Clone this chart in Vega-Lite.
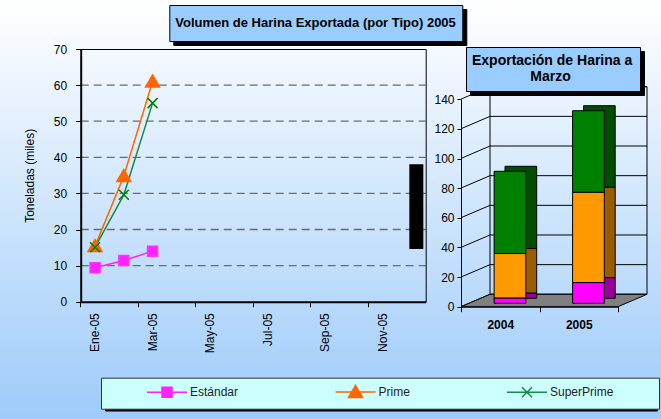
{
  "$schema": "https://vega.github.io/schema/vega-lite/v6.json",
  "width": 661,
  "height": 419,
  "autosize": {"type": "none"},
  "padding": 0,
  "background": "#ffffff",
  "config": {"font": "Liberation Sans", "view": {"stroke": null}},
  "datasets": {
    "serie": [
      {"mes": "Ene-05", "tipo": "Estándar", "miles": 9.4},
      {"mes": "Feb-05", "tipo": "Estándar", "miles": 11.4},
      {"mes": "Mar-05", "tipo": "Estándar", "miles": 14.0},
      {"mes": "Ene-05", "tipo": "Prime", "miles": 15.4},
      {"mes": "Feb-05", "tipo": "Prime", "miles": 34.8},
      {"mes": "Mar-05", "tipo": "Prime", "miles": 61.0},
      {"mes": "Ene-05", "tipo": "SuperPrime", "miles": 15.1},
      {"mes": "Feb-05", "tipo": "SuperPrime", "miles": 29.6},
      {"mes": "Mar-05", "tipo": "SuperPrime", "miles": 55.0}
    ],
    "anual": [
      {"anio": "2004", "tipo": "Estándar", "miles": 3.6},
      {"anio": "2004", "tipo": "Prime", "miles": 30.0},
      {"anio": "2004", "tipo": "SuperPrime", "miles": 55.5},
      {"anio": "2005", "tipo": "Estándar", "miles": 14.0},
      {"anio": "2005", "tipo": "Prime", "miles": 61.0},
      {"anio": "2005", "tipo": "SuperPrime", "miles": 55.0}
    ],
    "rejilla": [{"g": 10}, {"g": 20}, {"g": 30}, {"g": 40}, {"g": 50}, {"g": 60}],
    "marcas": [{"v": 0}, {"v": 20}, {"v": 40}, {"v": 60}, {"v": 80}, {"v": 100}, {"v": 120}, {"v": 140}]
  },
  "layer": [
    {
      "data": {"values": [{"fondo": 1}]},
      "mark": {"type": "rect", "xOffset": 11, "x2Offset": 11, "fill": {"gradient": "linear", "x1": 0, "y1": 0, "x2": 0, "y2": 1, "stops": [{"offset": 0, "color": "#ffffff"}, {"offset": 1, "color": "#9ecbfa"}]}},
      "encoding": {}
    },
    {
      "data": {"name": "serie"},
      "mark": {"type": "point", "opacity": 0},
      "encoding": {"color": {"field": "tipo", "type": "nominal", "scale": {"domain": ["Estándar", "Prime", "SuperPrime"], "range": ["#000000", "#000000", "#000000"]}, "legend": {
        "orient": "none", "legendX": 105, "legendY": 382.5, "direction": "horizontal",
        "title": "\u200b", "titleOrient": "left", "titlePadding": 52, "titleFontSize": 12,
        "fillColor": "#000000", "strokeColor": "#000000", "padding": 8,
        "symbolSize": 100, "symbolStrokeWidth": 1.5, "symbolOpacity": 0, "labelOffset": 17, "columnPadding": 93.5,
        "symbolType": {"expr": "datum.value === 'Estándar' ? 'M-4,0H4M-1,-1H1V1H-1Z' : datum.value === 'Prime' ? 'M-4,0H4M0,-1.3L1.4,1.1H-1.4Z' : 'M-4,0H4M-1,-1L1,1M-1,1L1,-1'"},
        "labelFontSize": 12, "labelColor": "#000000", "labelLimit": 300,
        "labelExpr": "datum.label === 'SuperPrime' ? 'SuperPrime\u00a0\u00a0\u00a0\u00a0\u00a0\u00a0\u00a0\u00a0\u00a0\u00a0\u00a0\u200b' : datum.label",
        "zindex": 1
      }}}
    },
    {
      "data": {"values": [{"titulo": "Volumen de Harina Exportada (por Tipo) 2005"}]},
      "mark": {"type": "point", "opacity": 0},
      "encoding": {"color": {"field": "titulo", "type": "nominal", "scale": {"range": ["#000000"]}, "legend": {
        "orient": "none", "legendX": 173.3, "legendY": 9, "title": null, "fillColor": "#000000", "strokeColor": "#000000", "padding": 6,
        "symbolSize": 576, "symbolOpacity": 0, "symbolStrokeWidth": 0, "labelOffset": -24, "labelFontSize": 13, "labelFontWeight": "bold", "labelColor": "#000000", "labelLimit": 500, "zindex": 1
      }}}
    },
    {
      "data": {"values": [{"titulo": "Volumen de Harina Exportada (por Tipo) 2005"}]},
      "mark": {"type": "point", "opacity": 0},
      "encoding": {"color": {"field": "titulo", "type": "nominal", "scale": {"range": ["#99ccff"]}, "legend": {
        "orient": "none", "legendX": 169.3, "legendY": 5, "title": null, "fillColor": "#99ccff", "strokeColor": "#000000", "padding": 6,
        "symbolSize": 576, "symbolOpacity": 0, "symbolStrokeWidth": 0, "labelOffset": -24, "labelFontSize": 13, "labelFontWeight": "bold", "labelColor": "#000000", "labelLimit": 500, "zindex": 2
      }}}
    },
    {
      "data": {"values": [{"titulo": "Exportación de Harina a Marzo"}]},
      "mark": {"type": "point", "opacity": 0},
      "encoding": {"color": {"field": "titulo", "type": "nominal", "scale": {"range": ["#000000"]}, "legend": {
        "orient": "none", "legendX": 470, "legendY": 51, "title": null, "fillColor": "#000000", "strokeColor": "#000000", "padding": 7,
        "symbolSize": 1, "symbolOpacity": 0, "symbolStrokeWidth": 0, "labelOffset": -15, "labelFontSize": 14, "labelFontWeight": "bold", "labelColor": "#000000", "labelLimit": 500, "zindex": 1,
        "labelExpr": "['Exportación de Harina a', '\u200b\u00a0\u00a0\u00a0\u00a0\u00a0\u00a0\u00a0\u00a0\u00a0\u00a0\u00a0\u00a0\u00a0\u00a0\u00a0Marzo']",
        "encode": {"labels": {"lineHeight": {"value": 14.5}}}
      }}}
    },
    {
      "data": {"values": [{"titulo": "Exportación de Harina a Marzo"}]},
      "mark": {"type": "point", "opacity": 0},
      "encoding": {"color": {"field": "titulo", "type": "nominal", "scale": {"range": ["#99ccff"]}, "legend": {
        "orient": "none", "legendX": 466, "legendY": 47, "title": null, "fillColor": "#99ccff", "strokeColor": "#000000", "padding": 7,
        "symbolSize": 1, "symbolOpacity": 0, "symbolStrokeWidth": 0, "labelOffset": -15, "labelFontSize": 14, "labelFontWeight": "bold", "labelColor": "#000000", "labelLimit": 500, "zindex": 2,
        "labelExpr": "['Exportación de Harina a', '\u200b\u00a0\u00a0\u00a0\u00a0\u00a0\u00a0\u00a0\u00a0\u00a0\u00a0\u00a0\u00a0\u00a0\u00a0\u00a0Marzo']",
        "encode": {"labels": {"lineHeight": {"value": 14.5}}}
      }}}
    },
    {
      "layer": [
        {
          "data": {"name": "rejilla"},
          "mark": {"type": "rule", "color": "#6b6b6b", "strokeWidth": 1.3, "strokeDash": [8, 5], "xOffset": -14.375, "x2Offset": 14.375},
          "encoding": {
            "x": {
              "datum": "Ene-05", "type": "ordinal",
              "scale": {"type": "band", "domain": ["Ene-05", "Feb-05", "Mar-05", "Abr-05", "May-05", "Jun-05", "Jul-05", "Ago-05", "Sep-05", "Oct-05", "Nov-05", "Dic-05"], "range": [80.7, 425.7], "paddingInner": 0, "paddingOuter": 0},
              "axis": {"orient": "top", "offset": -49, "labels": false, "ticks": false, "grid": false, "domainColor": "#000000", "domainWidth": 1, "title": null, "zindex": 1}
            },
            "x2": {"datum": "Dic-05"},
            "y": {
              "field": "g", "type": "quantitative",
              "scale": {"domain": [0, 70], "range": [301.7, 49], "nice": false, "zero": false},
              "axis": {"orient": "right", "offset": -235.3, "labels": false, "ticks": false, "grid": false, "domainColor": "#000000", "domainWidth": 1, "title": null, "zindex": 1}
            }
          }
        },
        {
          "data": {"values": [{"marca": "oculta"}]},
          "mark": {"type": "bar", "color": "#000000", "size": 14, "xOffset": 5, "opacity": 1},
          "encoding": {
            "x": {"datum": "Dic-05", "type": "ordinal"},
            "y": {"datum": 38.1, "type": "quantitative"},
            "y2": {"datum": 14.6}
          }
        }
      ]
    },
    {
      "data": {"name": "serie"},
      "encoding": {
        "x": {
          "field": "mes", "type": "ordinal",
          "scale": {"type": "band", "domain": ["Ene-05", "Feb-05", "Mar-05", "Abr-05", "May-05", "Jun-05", "Jul-05", "Ago-05", "Sep-05", "Oct-05", "Nov-05", "Dic-05"], "range": [80.7, 425.7], "paddingInner": 0, "paddingOuter": 0},
          "axis": {"orient": "bottom", "offset": -117.3, "values": ["Ene-05", "Mar-05", "May-05", "Jul-05", "Sep-05", "Nov-05"], "bandPosition": 0, "labelAngle": 270, "labelAlign": "right", "labelBaseline": "middle", "labelPadding": 6, "labelFontSize": 12, "labelColor": "#000000", "tickSize": 5, "tickColor": "#000000", "domainColor": "#000000", "domainWidth": 2, "title": null, "grid": false, "labelOverlap": false, "zindex": 1}
        },
        "y": {
          "field": "miles", "type": "quantitative",
          "scale": {"domain": [0, 70], "range": [301.7, 49], "nice": false, "zero": false},
          "axis": {"orient": "left", "offset": -80.7, "values": [0, 10, 20, 30, 40, 50, 60, 70], "grid": false, "domainColor": "#000000", "domainWidth": 2, "tickSize": 5, "tickColor": "#000000", "labelFontSize": 12, "labelColor": "#000000", "labelPadding": 9, "title": "Toneladas (miles)", "titleFontSize": 12, "titleFontWeight": "normal", "titleColor": "#000000", "titlePadding": 17, "zindex": 1}
        },
        "color": {
          "field": "tipo", "type": "nominal",
          "scale": {"domain": ["Estándar", "Prime", "SuperPrime"], "range": ["#ff22ff", "#ff6600", "#1a8a4a"]},
          "legend": {
            "orient": "none", "legendX": 101, "legendY": 377.7, "direction": "horizontal",
            "title": "\u200b", "titleOrient": "left", "titlePadding": 52, "titleFontSize": 12,
            "fillColor": "#ccffff", "strokeColor": "#333333", "padding": 8,
            "symbolSize": 100, "symbolStrokeWidth": 1.5, "symbolOpacity": 1, "labelOffset": 17, "columnPadding": 93.5,
            "symbolType": {"expr": "datum.value === 'Estándar' ? 'M-4,0H4M-1,-1H1V1H-1Z' : datum.value === 'Prime' ? 'M-4,0H4M0,-1.3L1.4,1.1H-1.4Z' : 'M-4,0H4M-1,-1L1,1M-1,1L1,-1'"},
            "symbolStrokeColor": {"expr": "datum.value === 'Estándar' ? '#ff40ff' : datum.value === 'Prime' ? '#ff8040' : '#339966'"},
            "labelFontSize": 12, "labelColor": "#222222", "labelLimit": 300,
            "labelExpr": "datum.label === 'SuperPrime' ? 'SuperPrime\u00a0\u00a0\u00a0\u00a0\u00a0\u00a0\u00a0\u00a0\u00a0\u00a0\u00a0\u200b' : datum.label",
            "zindex": 2
          }
        }
      },
      "layer": [
        {
          "mark": {"type": "line", "strokeWidth": 1.5}
        },
        {
          "mark": {"type": "point", "filled": true, "opacity": 1, "size": 100, "strokeWidth": 1.5},
          "encoding": {
            "stroke": {"field": "tipo", "type": "nominal", "scale": {"domain": ["Estándar", "SuperPrime", "Prime"], "range": ["#ff33ff", "#008000", "#ff6600"]}, "legend": null},
            "shape": {"field": "tipo", "type": "nominal", "scale": {"domain": ["Estándar", "SuperPrime", "Prime"], "range": ["M-1,-1H1V1H-1Z", "M-1,-1L1,1M-1,1L1,-1", "M0,-1.3L1.4,1.1H-1.4Z"]}, "legend": null}
          }
        }
      ]
    },
    {
      "layer": [
        {
          "data": {"name": "marcas"},
          "mark": {"type": "rule", "color": "#000000", "strokeWidth": 1},
          "encoding": {
            "x": {"datum": 0, "type": "quantitative", "scale": {"domain": [0, 1], "range": [490, 647], "nice": false, "zero": false}, "axis": null},
            "x2": {"datum": 1},
            "y": {"field": "v", "type": "quantitative", "scale": {"domain": [0, 140], "range": [294.3, 86.7], "nice": false, "zero": false}, "axis": null},
            "y2": {"field": "v"}
          }
        },
        {
          "data": {"name": "marcas"},
          "mark": {"type": "rule", "color": "#000000", "strokeWidth": 1, "xOffset": -29, "yOffset": 12.4},
          "encoding": {
            "x": {"datum": 0, "type": "quantitative"},
            "x2": {"datum": 0},
            "y": {"field": "v", "type": "quantitative"},
            "y2": {"field": "v"}
          }
        },
        {
          "data": {"values": [{"pared": 1}]},
          "mark": {"type": "rect", "fillOpacity": 0, "stroke": "#000000", "strokeWidth": 1},
          "encoding": {
            "x": {"datum": 0, "type": "quantitative"},
            "x2": {"datum": 1},
            "y": {"datum": 0, "type": "quantitative"},
            "y2": {"datum": 140}
          }
        },
        {
          "data": {"values": [{"piso": 0}]},
          "mark": {"type": "point", "shape": "M-1,0.0667L0.688,0.0667L1,-0.0667L-0.688,-0.0667Z", "size": 34596, "filled": true, "fill": "#808080", "stroke": "#000000", "strokeWidth": 1, "opacity": 1, "xOffset": -14.5, "yOffset": 6.2},
          "encoding": {"x": {"datum": 0.5, "type": "quantitative"}, "y": {"datum": 0, "type": "quantitative"}}
        }
      ]
    },
    {
      "data": {"name": "anual"},
      "encoding": {
        "x": {
          "field": "anio", "type": "ordinal",
          "scale": {"type": "band", "domain": ["2004", "2005"], "range": [461, 618], "paddingInner": 0, "paddingOuter": 0},
          "axis": {"orient": "bottom", "offset": -112.3, "domainColor": "#000000", "domainWidth": 1, "tickColor": "#000000", "tickSize": 5, "tickBand": "extent", "labelAngle": 0, "labelFontSize": 12, "labelFontWeight": "bold", "labelColor": "#000000", "labelPadding": 8, "title": null, "grid": false, "zindex": 1}
        },
        "y": {
          "field": "miles", "type": "quantitative", "stack": "zero",
          "scale": {"domain": [0, 140], "range": [306.7, 99.3], "nice": false},
          "axis": {"orient": "left", "offset": -461, "values": [0, 20, 40, 60, 80, 100, 120, 140], "domainColor": "#000000", "tickColor": "#000000", "tickSize": 4, "labelFontSize": 12, "labelColor": "#000000", "labelPadding": 3, "title": null, "grid": false, "zindex": 1}
        },
        "order": {"field": "tipo", "sort": "ascending"}
      },
      "layer": [
        {
          "mark": {"type": "bar", "size": 31.7, "xOffset": 20.6, "yOffset": -8.4, "y2Offset": -8.4, "stroke": "#000000", "strokeWidth": 1},
          "encoding": {"color": {"field": "tipo", "type": "nominal", "scale": {"domain": ["Estándar", "Prime", "SuperPrime"], "range": ["#990099", "#995c00", "#004d00"]}, "legend": null}}
        },
        {
          "mark": {"type": "bar", "size": 31.7, "xOffset": 9.7, "yOffset": -3.4, "y2Offset": -3.4, "stroke": "#000000", "strokeWidth": 1},
          "encoding": {"fill": {"field": "tipo", "type": "nominal", "scale": {"domain": ["Estándar", "Prime", "SuperPrime"], "range": ["#ff00ff", "#ff9900", "#008000"]}, "legend": null}}
        }
      ]
    }
  ],
  "resolve": {
    "scale": {"x": "independent", "y": "independent", "color": "independent", "fill": "independent", "stroke": "independent", "shape": "independent"},
    "axis": {"x": "independent", "y": "independent"},
    "legend": {"color": "independent", "fill": "independent", "stroke": "independent", "shape": "independent"}
  }
}
